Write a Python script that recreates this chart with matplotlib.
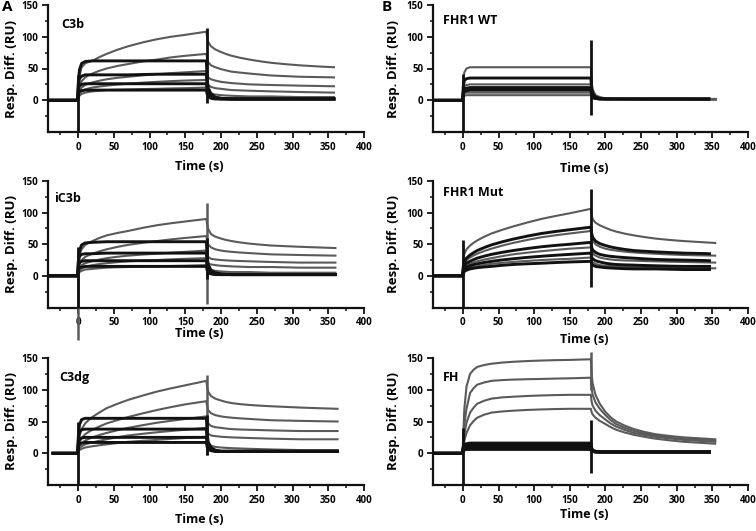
import matplotlib
matplotlib.use('Agg')
import matplotlib.pyplot as plt

plt.rcParams['font.family'] = ['Open Sans', 'DejaVu Sans']
plt.rcParams['font.weight'] = 'bold'

# ---------------- data ----------------
# shared sampling times (s): association phase then dissociation phase
t_assoc = [-0.5, 0.5, 2, 5, 10, 15, 20, 30, 40, 55, 70, 90, 110, 130, 150, 179.5]
t_dissoc = [180.5, 182, 186, 192, 200, 207, 215, 227, 240, 255, 270, 290, 310, 335]

# --- C3b --- (each row: 16 association values, then 14 dissociation values + final value)
c3b_start, c3b_end = -42, 358
c3b_gray = [
    [0, 20, 38, 52, 58, 60.5, 62, 68, 73, 79.5, 85, 91, 96, 100, 103, 108,
     100, 92, 85, 80, 76, 72.8, 70, 66.8, 64, 61.3, 59, 56.8, 55, 53.3, 52],
    [0, 12, 22, 30, 36, 39.5, 42, 46.5, 50, 54, 57, 61, 64, 67.5, 70, 73,
     66, 60, 55, 52, 49, 47, 45, 43.5, 42, 40.5, 39, 38, 37, 36.5, 36],
    [0, 8, 14, 20, 24, 26.3, 28, 30.8, 33, 35.3, 37, 39.2, 41, 42.7, 44, 46,
     40, 36, 33, 31, 29, 28, 27, 26, 25, 24.5, 24, 23.5, 23, 22.5, 22],
    [0, 6, 10, 14, 17, 18.7, 20, 21.7, 23, 24.7, 26, 27.7, 29, 30.1, 31, 32,
     27, 24, 21, 19, 18, 17, 16, 15.5, 15, 14.5, 14, 13.5, 13, 12.5, 12],
    [0, 4, 7, 10, 12, 13.1, 14, 15.2, 16, 16.6, 17, 17.6, 18, 18.6, 19, 20,
     16, 13, 11, 9, 8, 7.5, 7, 6.5, 6, 6, 6, 5.5, 5, 5, 5],
]
c3b_black = [
    [0, 30, 48, 58, 61, 61.5, 62, 62, 62, 62, 62, 62, 62, 62, 62, 62,
     35, 20, 10, 5, 3, 2.5, 2, 2, 2, 2, 2, 2, 2, 2, 2],
    [0, 25, 34, 38, 40, 40, 40, 40, 40, 40, 40, 40.5, 41, 41, 41, 41,
     25, 14, 7, 4, 3, 2.5, 2, 2, 2, 2, 2, 2, 2, 2, 2],
    [0, 18, 23, 25, 26, 26, 26, 26, 26, 26, 26, 26, 26, 26, 26, 26,
     16, 9, 5, 3, 2, 2, 2, 2, 2, 2, 2, 2, 2, 2, 2],
    [0, 12, 14, 15, 16, 16, 16, 16, 16, 16, 16, 16, 16, 16, 16, 16,
     10, 6, 3, 2, 2, 2, 2, 2, 2, 2, 2, 2, 2, 2, 2],
]
c3b_spikes = [(0, -50, 39, 'k'), (180, -5, 113, 'k')]

# --- iC3b ---
ic3b_start, ic3b_end = -42, 360
ic3b_gray = [
    [0, 18, 32, 42, 49, 52.3, 55, 60, 64, 67.8, 71, 75.8, 80, 83.2, 86, 90,
     82, 74, 66, 62, 59, 56.8, 55, 52.8, 51, 49.4, 48, 47, 46, 45, 44],
    [0, 10, 18, 25, 30, 32.7, 35, 38.8, 42, 45.8, 49, 52.2, 55, 57.7, 60, 63,
     56, 50, 45, 42, 40, 38.9, 38, 36.9, 36, 35, 34, 33.5, 33, 32.5, 32],
    [0, 7, 12, 17, 20, 21.7, 23, 25.7, 28, 30.2, 32, 33.7, 35, 36.6, 38, 40,
     34, 30, 27, 26, 25, 24.5, 24, 23.5, 23, 22.5, 22, 21.5, 21, 21, 21],
    [0, 5, 8, 12, 14, 15.7, 17, 18.7, 20, 21.7, 23, 24.1, 25, 26.1, 27, 28,
     23, 20, 18, 17, 16, 15.5, 15, 14.5, 14, 14, 14, 13.5, 13, 13, 13],
    [0, 3, 6, 8, 10, 10.6, 11, 12.1, 13, 13.6, 14, 14.6, 15, 15.6, 16, 17,
     13, 11, 9, 8, 7, 6.5, 6, 6, 6, 5.5, 5, 5, 5, 5, 5],
]
ic3b_black = [
    [0, 25, 40, 49, 52, 52.6, 53, 53.5, 54, 54, 54, 54, 54, 54, 54, 54,
     32, 18, 9, 5, 3, 2.5, 2, 2, 2, 2, 2, 2, 2, 2, 2],
    [0, 22, 31, 34, 35, 35, 35, 35.5, 36, 36, 36, 36, 36, 36, 36, 36,
     22, 12, 6, 4, 3, 2.5, 2, 2, 2, 2, 2, 2, 2, 2, 2],
    [0, 16, 21, 23, 24, 24, 24, 24, 24, 24, 24, 24, 24, 24, 24, 24,
     15, 8, 5, 3, 2, 2, 2, 2, 2, 2, 2, 2, 2, 2, 2],
    [0, 10, 13, 14, 15, 15, 15, 15, 15, 15, 15, 15, 15, 15, 15, 15,
     9, 5, 3, 2, 2, 2, 2, 2, 2, 2, 2, 2, 2, 2, 2],
]
ic3b_spikes = [(0, -102, 40, 'g'), (0, -50, 45, 'k'), (180, -45, 115, 'g'), (180, -5, 60, 'k')]

# --- C3dg ---
c3dg_start, c3dg_end = -35, 363
c3dg_gray = [
    [0, 15, 27, 38, 47, 52.3, 57, 64.3, 71, 77.8, 84, 90.7, 97, 102.2, 107, 114,
     105, 97, 90, 86, 83, 80.8, 79, 77.3, 76, 74.9, 74, 73, 72, 71, 70],
    [0, 8, 16, 24, 30, 33.7, 37, 42.3, 47, 52.2, 57, 62.7, 68, 72.7, 77, 82,
     75, 68, 63, 60, 58, 56.9, 56, 54.9, 54, 53, 52, 51.5, 51, 50.5, 50],
    [0, 6, 11, 16, 20, 22.6, 25, 28.7, 32, 36.2, 40, 44.1, 48, 51.1, 54, 58,
     52, 47, 43, 41, 40, 38.9, 38, 37.4, 37, 36.5, 36, 35.5, 35, 35, 35],
    [0, 4, 8, 11, 14, 15.6, 17, 19.7, 22, 25.2, 28, 30.6, 33, 35.1, 37, 40,
     35, 31, 28, 27, 26, 25.5, 25, 24.5, 24, 23.5, 23, 22.5, 22, 22, 22],
    [0, 3, 5, 7, 9, 10.1, 11, 12.6, 14, 16.1, 18, 19.6, 21, 22.6, 24, 26,
     20, 15, 12, 10, 9, 8.5, 8, 7.5, 7, 6.5, 6, 5.5, 5, 5, 5],
]
c3dg_black = [
    [0, 28, 45, 53, 55, 55, 55, 55, 55, 55, 55, 55, 55, 55, 55, 55,
     33, 18, 9, 5, 3, 3, 3, 3, 3, 3, 3, 3, 3, 3, 3],
    [0, 22, 33, 37, 38, 38, 38, 38, 38, 38, 38, 38, 38, 38, 38, 38,
     23, 13, 7, 4, 3, 3, 3, 3, 3, 3, 3, 3, 3, 3, 3],
    [0, 16, 22, 24, 25, 25, 25, 25, 25, 25, 25, 25, 25, 25, 25, 25,
     15, 9, 5, 3, 3, 3, 3, 3, 3, 3, 3, 3, 3, 3, 3],
    [0, 11, 15, 16, 17, 17, 17, 17, 17, 17, 17, 17, 17, 17, 17, 17,
     10, 6, 4, 3, 3, 3, 3, 3, 3, 3, 3, 3, 3, 3, 3],
]
c3dg_spikes = [(0, -50, 50, 'k'), (180, -3, 123, 'g'), (180, -3, 60, 'k')]

# --- FHR1 WT ---
wt_start, wt_end_gray, wt_end_black = -42, 355, 345
wt_gray = [
    [0, 30, 44, 50, 52, 52, 52, 52, 52, 52, 52, 52, 52, 52, 52, 52,
     30, 17, 8, 5, 3, 2.5, 2, 2, 2, 2, 2, 2, 2, 2, 2],
    [0, 15, 22, 24, 25, 25, 25, 25, 25, 25, 25, 25, 25, 25, 25, 25,
     14, 8, 4, 3, 2, 2, 2, 2, 2, 2, 2, 2, 2, 2, 2],
    [0, 8, 11, 12, 12, 12, 12, 12, 12, 12, 12, 12, 12, 12, 12, 12,
     7, 4, 2, 2, 2, 2, 2, 2, 2, 2, 2, 2, 2, 1, 1],
    [0, 5, 7, 8, 8, 8, 8, 8, 8, 8, 8, 8, 8, 8, 8, 8,
     5, 3, 2, 2, 2, 2, 2, 1.5, 1.5, 1, 1, 1, 1, 1, 1],
]
wt_black = [
    [0, 22, 31, 34, 35, 35, 35, 35, 35, 35, 35, 35, 35, 35, 35, 35,
     20, 11, 5, 3, 2, 2, 2, 2, 2, 2, 2, 2, 2, 2, 2],
    [0, 13, 18, 19, 20, 20, 20, 20, 20, 20, 20, 20, 20, 20, 20, 20,
     12, 7, 3, 2, 2, 2, 2, 2, 2, 2, 2, 2, 2, 2, 2],
    [0, 10, 14, 15, 16, 16, 16, 16, 16, 16, 16, 16, 16, 16, 16, 16,
     9, 5, 3, 2, 2, 2, 2, 2, 2, 2, 2, 2, 2, 2, 2],
]
wt_spikes = [(0, -50, 42, 'k'), (180, -24, 95, 'k')]

# --- FHR1 Mut ---
mut_start, mut_end_gray, mut_end_black = -42, 354, 346
mut_gray = [
    [0, 25, 35, 42, 48, 52.3, 56, 62, 67, 72.8, 78, 84.3, 90, 94.7, 99, 106,
     97, 90, 84, 80, 76, 72.8, 70, 66.8, 64, 61.3, 59, 56.8, 55, 53.3, 52],
    [0, 12, 19, 25, 29, 32.2, 35, 39.3, 43, 47.8, 52, 56.8, 61, 64.2, 67, 71,
     62, 56, 50, 46, 43, 41.3, 40, 38.3, 37, 35.9, 35, 33.9, 33, 32.4, 32],
    [0, 8, 12, 16, 19, 21.2, 23, 25.7, 28, 31.2, 34, 36.7, 39, 41.1, 43, 45,
     39, 35, 32, 29, 27, 25.9, 25, 24.4, 24, 23.4, 23, 22.4, 22, 21.4, 21],
    [0, 5, 8, 11, 13, 14.1, 15, 17.2, 19, 20.7, 22, 23.6, 25, 26.1, 27, 29,
     24, 21, 19, 17, 16, 15.5, 15, 14.4, 14, 13.4, 13, 12.4, 12, 12, 12],
]
mut_black = [
    [0, 15, 22, 28, 33, 36.7, 40, 44.8, 49, 53.8, 58, 62.8, 67, 70.2, 73, 77,
     68, 61, 55, 51, 48, 45.8, 44, 41.8, 40, 38.9, 38, 36.9, 36, 35.4, 35],
    [0, 10, 15, 20, 23, 25.7, 28, 31.2, 34, 37.2, 40, 43.2, 46, 48.2, 50, 53,
     46, 41, 37, 34, 32, 30.9, 30, 28.9, 28, 26.9, 26, 25.4, 25, 24.4, 24],
    [0, 7, 10, 13, 16, 17.7, 19, 21.2, 23, 25.2, 27, 29.2, 31, 32.6, 34, 36,
     30, 27, 24, 22, 20, 18.9, 18, 17.4, 17, 16.4, 16, 15.4, 15, 15, 15],
    [0, 4, 7, 9, 11, 12.1, 13, 14.1, 15, 16.7, 18, 19.1, 20, 21.1, 22, 23,
     19, 17, 15, 14, 13, 12.5, 12, 11.4, 11, 11, 11, 10.5, 10, 10, 10],
]
mut_spikes = [(0, -50, 57, 'k'), (180, -17, 137, 'k')]

# --- FH ---
fh_start, fh_end_gray, fh_end_black = -42, 354, 346
fh_gray = [
    [0, 30, 70, 105, 125, 131.5, 136, 139, 141, 142.8, 144, 145.2, 146, 146.6, 147, 148,
     125, 110, 92, 78, 65, 57, 50, 43.5, 38, 33.5, 30, 27.2, 25, 23.3, 22],
    [0, 20, 45, 70, 95, 102.5, 108, 111.5, 114, 115.2, 116, 116.6, 117, 117.6, 118, 119,
     102, 92, 80, 70, 60, 52.5, 46, 40, 35, 31, 28, 25.3, 23, 21.4, 20],
    [0, 15, 30, 48, 64, 71.8, 78, 82.8, 86, 88, 89, 90.2, 91, 91.6, 92, 92,
     82, 75, 67, 60, 53, 47, 42, 36.7, 32, 28.8, 26, 23.3, 21, 19.3, 18],
    [0, 10, 20, 32, 44, 50.8, 56, 60.8, 64, 65.8, 67, 68.2, 69, 69.6, 70, 70,
     65, 61, 56, 51, 46, 41.3, 37, 32.7, 29, 25.8, 23, 20.3, 18, 16.3, 15],
]
fh_black = [
    [0, 10, 14, 15, 16, 16, 16, 16, 16, 16, 16, 16, 16, 16, 16, 16,
     9, 5, 3, 2, 2, 2, 2, 2, 2, 2, 2, 2, 2, 2, 2],
    [0, 9, 12, 13, 13, 13, 13, 13, 13, 13, 13, 13, 13, 13, 13, 13,
     8, 4, 3, 2, 2, 2, 2, 2, 2, 2, 2, 2, 2, 2, 2],
    [0, 7, 9, 10, 10, 10, 10, 10, 10, 10, 10, 10, 10, 10, 10, 10,
     6, 4, 2, 2, 2, 2, 2, 2, 2, 2, 2, 2, 2, 2, 2],
    [0, 6, 7, 8, 8, 8, 8, 8, 8, 8, 8, 8, 8, 8, 8, 8,
     5, 3, 2, 2, 2, 2, 2, 2, 2, 2, 2, 2, 2, 2, 2],
    [0, 4, 5, 6, 6, 6, 6, 6, 6, 6, 6, 6, 6, 6, 6, 6,
     4, 3, 2, 2, 2, 2, 2, 2, 2, 2, 2, 2, 2, 2, 2],
]
fh_spikes = [(0, -50, 40, 'k'), (180, -31, 52, 'k'), (180, 100, 160, 'g')]

panel_names = ['C3b', 'iC3b', 'C3dg', 'FHR1 WT', 'FHR1 Mut', 'FH']
name_pos = [(-23, 120), (-33, 122), (-26, 120), (-28, 125), (-28, 132), (-28, 120)]
x_ticks = [0, 50, 100, 150, 200, 250, 300, 350, 400]
y_ticks = [0, 50, 100, 150]

# ---------------- drawing ----------------
GRAY = '#5a5a5a'
BLACK = '#111111'
W, H = 756, 531
fig = plt.figure(figsize=(W / 100, H / 100), dpi=100)

cols = [(48, 364), (433, 748)]
rows = [(5, 132), (181, 307.5), (358, 485)]
xlabel_gap = [[28, 20, 28], [30, 26, 23]]
ylabel_x = [-0.095, -0.105]


def add_ax(c, r):
    l, rr = cols[c]
    t, b = rows[r]
    return fig.add_axes([l / W, 1 - b / H, (rr - l) / W, (b - t) / H])


panels = [
    (c3b_start, c3b_end, c3b_end, c3b_gray, c3b_black, c3b_spikes),
    (ic3b_start, ic3b_end, ic3b_end, ic3b_gray, ic3b_black, ic3b_spikes),
    (c3dg_start, c3dg_end, c3dg_end, c3dg_gray, c3dg_black, c3dg_spikes),
    (wt_start, wt_end_gray, wt_end_black, wt_gray, wt_black, wt_spikes),
    (mut_start, mut_end_gray, mut_end_black, mut_gray, mut_black, mut_spikes),
    (fh_start, fh_end_gray, fh_end_black, fh_gray, fh_black, fh_spikes),
]

for i, (start, end_g, end_b, gray, black, spikes) in enumerate(panels):
    c, r = divmod(i, 3)
    ax = add_ax(c, r)
    tg = [start] + t_assoc + t_dissoc + [end_g]
    tb = [start] + t_assoc + t_dissoc + [end_b]
    for y in gray:
        ax.plot(tg, [0] + y, color=GRAY, lw=1.5, solid_joinstyle='round')
    for y in black:
        ax.plot(tb, [0] + y, color=BLACK, lw=2.1, solid_joinstyle='round')
    for (tx, y0, y1, col) in spikes:
        ax.vlines(tx, y0, y1, color=GRAY if col == 'g' else BLACK,
                  lw=1.8 if col == 'g' else 2.0, clip_on=False, zorder=3)

    ax.set_xlim(-42, 400)
    ax.set_ylim(-50, 150)
    ax.set_xticks(x_ticks)
    ax.set_xticks([v - 25 for v in x_ticks], minor=True)
    ax.set_yticks(y_ticks)
    ax.set_yticks([-25, 25, 75, 125], minor=True)
    for s in ['top', 'right']:
        ax.spines[s].set_visible(False)
    for s in ['left', 'bottom']:
        ax.spines[s].set_linewidth(1.6)
        ax.spines[s].set_color(BLACK)
    ax.tick_params(which='major', direction='out', length=4, width=1.3,
                   labelsize=7, pad=3, color=BLACK)
    ax.tick_params(which='minor', direction='out', length=2.5, width=1.1, color=BLACK)
    for lab in ax.get_xticklabels() + ax.get_yticklabels():
        lab.set_fontweight('bold')

    ax.set_xlabel('Time (s)', fontsize=9, fontweight='bold')
    ax.xaxis.set_label_coords(0.48, -xlabel_gap[c][r] / 127.0)
    ax.set_ylabel('Resp. Diff. (RU)', fontsize=9.5, fontweight='bold')
    ax.yaxis.set_label_coords(ylabel_x[c], 0.5)

    nx, ny = name_pos[i]
    ax.text(nx, ny, panel_names[i], fontsize=9, fontweight='bold',
            ha='left', va='center')

fig.text(7 / W, 1 - 7 / H, 'A', fontsize=11, fontweight='bold', ha='center', va='center')
fig.text(387 / W, 1 - 7 / H, 'B', fontsize=11, fontweight='bold', ha='center', va='center')

fig.savefig('out.png', dpi=100)
